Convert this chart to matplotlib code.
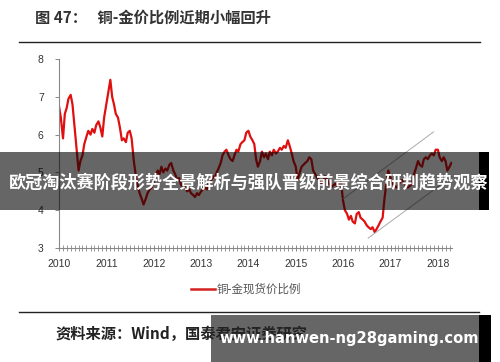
import matplotlib
matplotlib.use("Agg")
import matplotlib.pyplot as plt
import matplotlib.dates as mdates
from matplotlib.patches import Rectangle
from matplotlib.lines import Line2D
import pandas as pd

plt.rcParams['font.family'] = ['Noto Sans CJK SC', 'DejaVu Sans']

# ---- data (semi-monthly readings of the copper/gold spot price ratio) ----
ratio_2010 = [6.75, 6.45, 5.9, 6.55, 6.7, 6.95, 7.05, 6.8, 6.2, 5.7, 5.05, 5.3,
              5.45, 5.75, 5.95, 6.1, 6.0, 6.15, 6.05, 6.25, 6.35, 6.2, 5.95, 6.45]
ratio_2011 = [6.8, 7.1, 7.45, 7.0, 6.8, 6.55, 6.45, 6.2, 5.85, 5.9, 5.8, 6.05,
              6.1, 5.9, 5.3, 4.95, 4.65, 4.45, 4.3, 4.15, 4.3, 4.45, 4.55, 4.6]
ratio_2012 = [4.75, 4.9, 5.05, 4.95, 5.15, 5.0, 5.1, 5.05, 5.2, 5.25, 5.05, 4.95,
              4.8, 4.85, 4.65, 4.7, 4.6, 4.5, 4.55, 4.45, 4.4, 4.35, 4.45, 4.4]
ratio_2013 = [4.5, 4.55, 4.6, 4.55, 4.7, 4.75, 4.9, 4.85, 5.0, 5.1, 5.25, 5.45,
              5.55, 5.6, 5.45, 5.35, 5.3, 5.45, 5.6, 5.55, 5.75, 5.8, 5.85, 6.05]
ratio_2014 = [6.1, 5.95, 5.85, 5.75, 5.35, 5.15, 5.3, 5.55, 5.4, 5.5, 5.35, 5.55,
              5.45, 5.6, 5.5, 5.55, 5.65, 5.6, 5.7, 5.65, 5.85, 5.7, 5.5, 5.3]
ratio_2015 = [5.15, 4.8, 5.0, 5.15, 5.2, 5.25, 5.3, 5.4, 5.35, 5.05, 4.95, 4.85,
              4.8, 4.7, 4.75, 4.9, 4.8, 4.7, 4.6, 4.65, 4.7, 4.65, 4.7, 4.75]
ratio_2016 = [4.25, 4.0, 3.9, 3.75, 3.85, 3.7, 3.65, 3.9, 3.95, 3.8, 3.75, 3.7,
              3.6, 3.55, 3.5, 3.55, 3.42, 3.5, 3.6, 3.7, 3.8, 4.3, 4.75, 5.05]
ratio_2017 = [4.85, 4.7, 4.65, 4.6, 4.65, 4.75, 4.8, 4.7, 4.65, 4.6, 4.65, 4.7,
              4.95, 5.1, 5.3, 5.2, 5.15, 5.35, 5.4, 5.35, 5.45, 5.5, 5.45, 5.6]
ratio_2018 = [5.6, 5.4, 5.3, 5.4, 5.3, 5.05, 5.15, 5.25]

ratio = (ratio_2010 + ratio_2011 + ratio_2012 + ratio_2013 + ratio_2014 +
         ratio_2015 + ratio_2016 + ratio_2017 + ratio_2018)
dates = pd.date_range("2010-01-01", periods=len(ratio), freq="SMS")

# trend channel lines (start / end)
upper_dates = pd.to_datetime(["2016-01-01", "2017-11-28"])
upper_vals = [4.30, 6.07]
lower_dates = pd.to_datetime(["2016-07-12", "2018-06-24"])
lower_vals = [3.26, 5.06]

y_ticks = [3, 4, 5, 6, 7, 8]

title = "图 47：   铜-金价比例近期小幅回升"
legend_label = "铜-金现货价比例"
source = "资料来源：Wind，国泰君安证券研究"
banner_top = "欧冠淘汰赛阶段形势全景解析与强队晋级前景综合研判趋势观察"
banner_bottom = "www.hanwen-ng28gaming.com"

# ---- figure ----
W, H = 500, 362
fig = plt.figure(figsize=(W / 100, H / 100), dpi=100)
fig.patch.set_facecolor("white")


def fx(px):
    return px / W


def fy(py):
    return 1 - py / H


ax = fig.add_axes([fx(59), fy(248), fx(452) - fx(59), fy(59) - fy(248)])
ax.plot(dates, ratio, color="#E01010", lw=1.6, solid_joinstyle="round")
ax.plot(upper_dates, upper_vals, color="#AAAAAA", lw=0.7)
ax.plot(lower_dates, lower_vals, color="#AAAAAA", lw=0.7)

ax.set_ylim(3, 8)
ax.set_yticks(y_ticks)
ax.set_xlim(pd.Timestamp("2010-01-01"), pd.Timestamp("2018-04-20"))
ax.xaxis.set_major_locator(mdates.YearLocator())
ax.xaxis.set_major_formatter(mdates.DateFormatter("%Y"))
ax.xaxis.set_minor_locator(mdates.MonthLocator())

for s in ["top", "right"]:
    ax.spines[s].set_visible(False)
for s in ["left", "bottom"]:
    ax.spines[s].set_color("#888888")
    ax.spines[s].set_linewidth(0.8)

ax.tick_params(axis="y", direction="out", length=3, width=0.7, color="#888888",
               pad=8, labelsize=7.5, labelcolor="#333333")
ax.tick_params(axis="x", which="major", direction="inout", length=4, width=0.7,
               color="#888888", pad=6, labelsize=7.5, labelcolor="#333333")
ax.tick_params(axis="x", which="minor", direction="inout", length=4, width=0.6,
               color="#888888")
for lab in ax.get_xticklabels() + ax.get_yticklabels():
    lab.set_fontfamily(["Liberation Sans", "DejaVu Sans"])
ax.set_clip_on(False)

# ---- title and rules ----
fig.text(fx(35), fy(18), title, fontsize=11, fontweight="bold", color="#333333",
         va="center", ha="left")
fig.add_artist(Line2D([fx(19), fx(480)], [fy(42), fy(42)], color="#222222", lw=1.0))
fig.add_artist(Line2D([fx(19), fx(479)], [fy(312), fy(312)], color="#222222", lw=1.0))

# legend
fig.add_artist(Line2D([fx(191), fx(215)], [fy(289), fy(289)], color="#D42020", lw=1.8))
fig.text(fx(217), fy(289), legend_label, fontsize=8.3, color="#555555",
         va="center", ha="left")

# source
fig.text(fx(55), fy(334), source, fontsize=11, fontweight="bold", color="#222222",
         va="center", ha="left")

# ---- overlay banners ----
fig.add_artist(Rectangle((fx(0), fy(210)), fx(479) - fx(0), fy(152) - fy(210),
                         transform=fig.transFigure, facecolor="black", alpha=0.6,
                         edgecolor="none"))
fig.add_artist(Rectangle((fx(479), fy(210)), fx(489) - fx(479), fy(152) - fy(210),
                         transform=fig.transFigure, facecolor="black",
                         edgecolor="none"))
fig.text(fx(249), fy(182), banner_top, fontsize=12.3, fontweight="bold",
         color="white", va="center", ha="center")

fig.add_artist(Rectangle((fx(211), fy(362)), fx(479) - fx(211), fy(315) - fy(362),
                         transform=fig.transFigure, facecolor="black", alpha=0.6,
                         edgecolor="none"))
fig.add_artist(Rectangle((fx(479), fy(362)), fx(491) - fx(479), fy(315) - fy(362),
                         transform=fig.transFigure, facecolor="black",
                         edgecolor="none"))
fig.text(fx(349), fy(338), banner_bottom, fontsize=10.6, fontweight="bold",
         color="white", va="center", ha="center", family=["DejaVu Sans"])

fig.savefig("out.png", dpi=100, facecolor="white")
